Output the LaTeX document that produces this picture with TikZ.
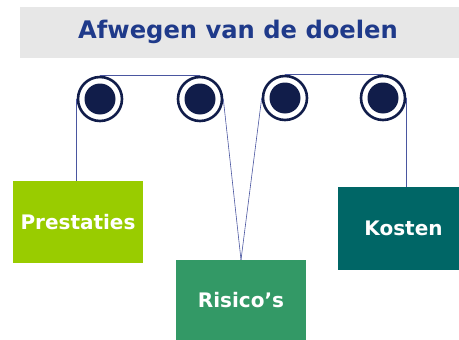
\documentclass[tikz,border=0pt]{standalone}
\usepackage{fontspec}
\setmainfont{DejaVu Sans}
\definecolor{titleblue}{HTML}{1F3A8A}
\definecolor{navy}{HTML}{111D4A}
\definecolor{wire}{HTML}{4A56A0}
\definecolor{band}{HTML}{E7E7E7}
\definecolor{lime}{HTML}{99CC00}
\definecolor{midgreen}{HTML}{339966}
\definecolor{teal}{HTML}{006666}
\begin{document}
\begin{tikzpicture}[x=1pt,y=-1pt,
  pulley/.style={circle,draw=navy,line width=2.6pt,fill=white,minimum size=44pt,inner sep=0pt,
    path picture={\fill[navy] (path picture bounding box.center) circle (15.5pt);}},
  goal/.style={rectangle,inner sep=0pt,text=white,font=\bfseries\fontsize{20}{24}\selectfont},
  wireline/.style={draw=wire,line width=0.6pt}]
\useasboundingbox (0,0) rectangle (459,340);
\fill[white] (0,0) rectangle (459,340);
\node[fill=band,minimum width=439pt,minimum height=51pt,inner sep=0pt,anchor=north west] (band) at (20,7) {};
\node[text=titleblue,font=\bfseries\fontsize{24.2}{29}\selectfont] (title) at (238,32) {Afwegen van de doelen};
% boxes
\node[goal,fill=lime,minimum width=130pt,minimum height=82pt] (p) at (78,222) {Prestaties};
\node[goal,fill=midgreen,minimum width=130pt,minimum height=80pt] (r) at (241,300) {Risico’s};
\fill[teal] (338,187) rectangle (459,270);
\node[goal,minimum width=131pt,minimum height=83pt] (k) at (403.5,228.5) {Kosten};
% pulleys
\node[pulley] (c1) at (100,99) {};
\node[pulley] (c2) at (200,99) {};
\node[pulley] (c3) at (285,98) {};
\node[pulley] (c4) at (383,98) {};
% wires
\draw[wireline] (c1.north) -- (c2.north);
\draw[wireline] (c3.north) -- (c4.north);
\draw[wireline] (c1.west) -- (c1.west |- p.north);
\draw[wireline] (c2.east) -- (r.north);
\draw[wireline] (c3.west) -- (r.north);
\draw[wireline] (c4.east) -- (c4.east |- k.north);
\end{tikzpicture}
\end{document}
